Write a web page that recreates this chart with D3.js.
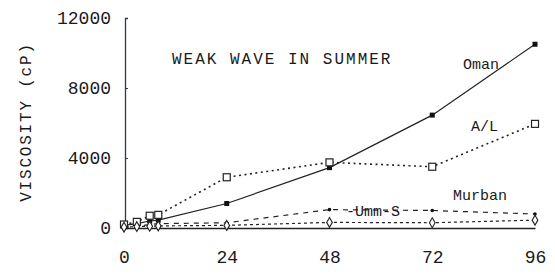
<!DOCTYPE html>
<html>
<head>
<meta charset="utf-8">
<script src="https://cdn.jsdelivr.net/npm/d3@7"></script>
<style>
  body { margin: 0; background: #fff; }
  svg { display: block; }
  text { font-family: "Liberation Mono", "DejaVu Sans Mono", monospace; fill: #1a1a1a; }
</style>
</head>
<body>
<svg width="555" height="280"></svg>
<script>
// hours after start
const hours = [0, 3, 6, 8, 24, 48, 72, 96];
const xTicks = [0, 24, 48, 72, 96];
const yTicks = [0, 4000, 8000, 12000];

// viscosity (cP) per crude
const oman = [150, 250, 400, 450, 1400, 3450, 6450, 10500];
const al = [200, 350, 700, 750, 2900, 3750, 3500, 5950];
const ummS = [50, 100, 200, 250, 300, 1050, 1000, 800];
const murban = [50, 80, 100, 120, 150, 320, 300, 450];

const x = d3.scaleLinear().domain([0, 96]).range([124, 535]);
const y = d3.scaleLinear().domain([0, 12000]).range([228, 18]);

const svg = d3.select("svg");

// Y axis
const yAxis = d3.axisRight(y).tickValues(yTicks).tickSize(3).tickFormat(d3.format("d"));
const gy = svg.append("g").attr("transform", "translate(125,0)").call(yAxis);
gy.select(".domain").attr("stroke", "#2b3b48").attr("stroke-width", 1.3);
gy.selectAll(".tick line").attr("stroke", "#2b3b48");
gy.selectAll(".tick text")
  .attr("x", -14)
  .attr("text-anchor", "end")
  .attr("font-size", 18)
  .attr("font-family", "Liberation Mono, monospace")
  .attr("fill", "#1a1a1a");

// X axis (baseline)
const xAxis = d3.axisBottom(x).tickValues(xTicks).tickSize(0).tickPadding(22);
const gx = svg.append("g").attr("transform", "translate(0,228)").call(xAxis);
gx.select(".domain").attr("stroke", "#222").attr("stroke-width", 1.4);
gx.selectAll(".tick text")
  .attr("font-size", 18)
  .attr("font-family", "Liberation Mono, monospace")
  .attr("fill", "#1a1a1a");

// axis title
svg.append("text")
  .attr("transform", "translate(31,122) rotate(-90)")
  .attr("text-anchor", "middle")
  .attr("font-size", 16)
  .attr("letter-spacing", 1.8)
  .text("VISCOSITY (cP)");

// chart title
svg.append("text")
  .attr("x", 172)
  .attr("y", 64)
  .attr("font-size", 16)
  .attr("letter-spacing", 2)
  .text("WEAK WAVE IN SUMMER");

const line = d3.line().x((d, i) => x(hours[i])).y(d => y(d));

function drawSeries(vals, dash, w) {
  svg.append("path")
    .datum(vals)
    .attr("d", line)
    .attr("fill", "none")
    .attr("stroke", "#222")
    .attr("stroke-width", w)
    .attr("stroke-dasharray", dash);
}

drawSeries(oman, null, 1.2);
drawSeries(al, "2,3.5", 1.6);
drawSeries(ummS, "5,5", 1.2);
drawSeries(murban, "3,3", 1.2);

// markers
svg.selectAll(".m-oman").data(oman).enter().append("rect")
  .attr("x", (d, i) => x(hours[i]) - 2.5)
  .attr("y", d => y(d) - 2.5)
  .attr("width", 5).attr("height", 5)
  .attr("fill", "#111");

svg.selectAll(".m-al").data(al).enter().append("rect")
  .attr("x", (d, i) => x(hours[i]) - 3.5)
  .attr("y", d => y(d) - 3.5)
  .attr("width", 7).attr("height", 7)
  .attr("fill", "#fff").attr("stroke", "#222").attr("stroke-width", 1.2);

svg.selectAll(".m-umm").data(ummS).enter().append("circle")
  .attr("cx", (d, i) => x(hours[i]))
  .attr("cy", d => y(d))
  .attr("r", 1.8)
  .attr("fill", "#111");

const diamond = d3.symbol().type(d3.symbolDiamond).size(28);
svg.selectAll(".m-mur").data(murban).enter().append("path")
  .attr("transform", (d, i) => `translate(${x(hours[i])},${y(d)})`)
  .attr("d", diamond)
  .attr("fill", "#fff").attr("stroke", "#222").attr("stroke-width", 1.1);

// series labels
const labels = [
  { t: "Oman", x: 463, y: 69 },
  { t: "A/L", x: 471, y: 131 },
  { t: "Murban", x: 453, y: 200 },
  { t: "-Umm-S", x: 346, y: 216 }
];
svg.selectAll(".lab").data(labels).enter().append("text")
  .attr("x", d => d.x)
  .attr("y", d => d.y)
  .attr("font-size", 15)
  .text(d => d.t);
</script>
</body>
</html>
